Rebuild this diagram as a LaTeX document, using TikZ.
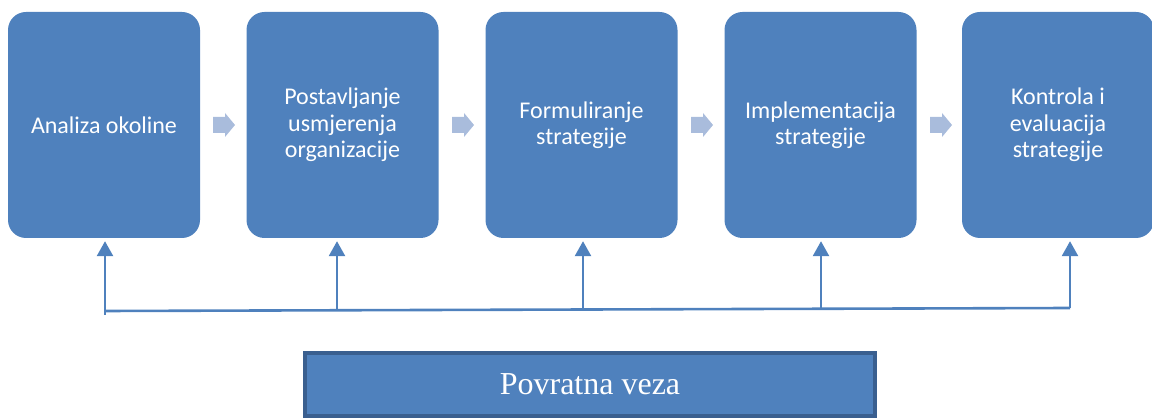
\documentclass[tikz,border=0pt]{standalone}
\usepackage{fontspec}
\setmainfont{Liberation Serif}
\newfontfamily\boxfont{Carlito}
\usetikzlibrary{arrows.meta}
\definecolor{boxblue}{HTML}{4F81BD}
\definecolor{darkblue}{HTML}{3A5F8F}
\definecolor{chev}{HTML}{A9BCDC}
\tikzset{
  x=1pt, y=-1pt,
  stage/.style={draw=none, fill=boxblue, rounded corners=18pt, minimum width=192pt, minimum height=226pt,
    text=white, align=center, font=\boxfont\fontsize{24}{26.5}\selectfont, inner sep=0pt},
  fbline/.style={draw=boxblue, line width=2.6pt},
  fbarrow/.style={fbline, -{Triangle[length=15pt, width=16pt]}},
  chevron/.style={fill=chev, draw=none}
}
\begin{document}
\begin{tikzpicture}
\useasboundingbox (0,0) rectangle (1152,419);
\node[stage] (b1) at (104,125) {Analiza okoline};
\node[stage] (b2) at (342.5,125) {Postavljanje\\usmjerenja\\organizacije};
\node[stage] (b3) at (581.5,125) {Formuliranje\\strategije};
\node[stage] (b4) at (820.5,125) {Implementacija\\strategije};
\node[stage] (b5) at (1058,125) {Kontrola i\\evaluacija\\strategije};
\foreach \dx in {0,239,478,717,956}{
  \fill[chevron] (213+\dx,117) -- (225+\dx,117) -- (225+\dx,113) -- (235+\dx,125) -- (225+\dx,137) -- (225+\dx,133) -- (213+\dx,133) -- cycle;
}
\node[draw=darkblue, line width=3.5pt, fill=boxblue, minimum width=570pt, minimum height=63pt, inner sep=0pt,
  text=white, font=\fontsize{32}{36}\selectfont] (fb) at (590,384.5) {Povratna veza};
\coordinate (l0) at (105,315);
\coordinate (h1) at (105,311);
\coordinate (h2) at (337,310.3);
\coordinate (h3) at (583,309.5);
\coordinate (h4) at (821,308.8);
\coordinate (h5) at (1070,308);
\draw[fbline] (h1) -- (h5);
\draw[fbarrow] (l0) -- ([yshift=-3pt]b1.south -| l0);
\draw[fbarrow] (h2) -- ([yshift=-3pt]b2.south -| h2);
\draw[fbarrow] (h3) -- ([yshift=-3pt]b3.south -| h3);
\draw[fbarrow] (h4) -- ([yshift=-3pt]b4.south -| h4);
\draw[fbarrow] (h5) -- ([yshift=-3pt]b5.south -| h5);
\end{tikzpicture}
\end{document}
